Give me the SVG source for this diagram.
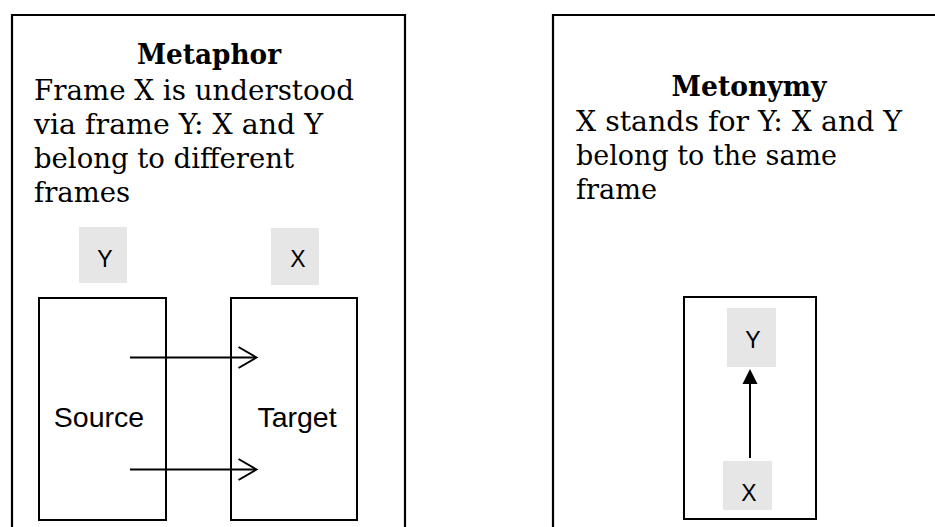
<svg xmlns="http://www.w3.org/2000/svg" width="935" height="527" viewBox="0 0 935 527">
  <style>
    .frame { fill: none; stroke: #000; stroke-width: 2.2; }
    .box { fill: #fff; stroke: #000; stroke-width: 2; }
    .tag { fill: #e6e6e6; }
    .title { font-family: "DejaVu Serif", "Liberation Serif", serif; font-weight: bold; font-size: 27px; fill: #000; }
    .body { font-family: "DejaVu Serif", "Liberation Serif", serif; font-size: 28px; fill: #000; }
    .sans { font-family: "Liberation Sans", Arial, sans-serif; fill: #000; }
    .lbl { font-size: 23px; text-anchor: middle; }
    .big { font-size: 28.5px; text-anchor: middle; }
    .line { fill: none; stroke: #000; stroke-width: 2; }
  </style>

  <!-- Metaphor panel -->
  <g id="metaphor-panel">
    <path class="frame" d="M12,530 V15 H405 V530"/>
    <text class="title" x="209" y="64" text-anchor="middle" textLength="144" lengthAdjust="spacingAndGlyphs">Metaphor</text>
    <text class="body" x="34" y="99.5" textLength="320" lengthAdjust="spacingAndGlyphs">Frame X is understood</text>
    <text class="body" x="34" y="134" textLength="289" lengthAdjust="spacingAndGlyphs">via frame Y: X and Y</text>
    <text class="body" x="34" y="168" textLength="260" lengthAdjust="spacingAndGlyphs">belong to different</text>
    <text class="body" x="34" y="202" textLength="96" lengthAdjust="spacingAndGlyphs">frames</text>
  </g>

  <g id="tag-y-left">
    <rect class="tag" x="79" y="227" width="48" height="56"/>
    <text class="sans lbl" x="105" y="266.5">Y</text>
  </g>
  <g id="tag-x-left">
    <rect class="tag" x="271" y="228" width="48" height="57"/>
    <text class="sans lbl" x="298" y="267">X</text>
  </g>

  <g id="source">
    <rect class="box" x="39" y="298" width="127" height="222"/>
    <text class="sans big" x="99" y="426.5">Source</text>
  </g>
  <g id="target">
    <rect class="box" x="231" y="298" width="126" height="222"/>
    <text class="sans big" x="297" y="426.5">Target</text>
  </g>

  <!-- Metonymy panel -->
  <g id="metonymy-panel">
    <path class="frame" d="M553,530 V15 H940"/>
    <text class="title" x="749" y="96" text-anchor="middle" textLength="155" lengthAdjust="spacingAndGlyphs">Metonymy</text>
    <text class="body" x="576" y="130.5" textLength="326" lengthAdjust="spacingAndGlyphs">X stands for Y: X and Y</text>
    <text class="body" x="576" y="164.5" textLength="261" lengthAdjust="spacingAndGlyphs">belong to the same</text>
    <text class="body" x="576" y="198.5" textLength="81" lengthAdjust="spacingAndGlyphs">frame</text>
  </g>

  <g id="domain">
    <rect class="box" x="684" y="297" width="132" height="222"/>
  </g>
  <g id="tag-y-right">
    <rect class="tag" x="727" y="308" width="49" height="59"/>
    <text class="sans lbl" x="753" y="347.5">Y</text>
  </g>
  <g id="tag-x-right">
    <rect class="tag" x="723" y="461" width="49" height="49"/>
    <text class="sans lbl" x="749" y="500.5">X</text>
  </g>

  <!-- Connectors -->
  <g id="connectors">
    <path class="line" d="M130,357.5 H256"/>
    <path class="line" d="M238.5,347 L256.5,357.5 L238.5,368"/>
    <path class="line" d="M130,469.5 H256"/>
    <path class="line" d="M238.5,459 L256.5,469.5 L238.5,480"/>
    <path class="line" d="M750,458 V380"/>
    <polygon points="750,369 742.5,384 757.5,384" fill="#000"/>
  </g>
</svg>
